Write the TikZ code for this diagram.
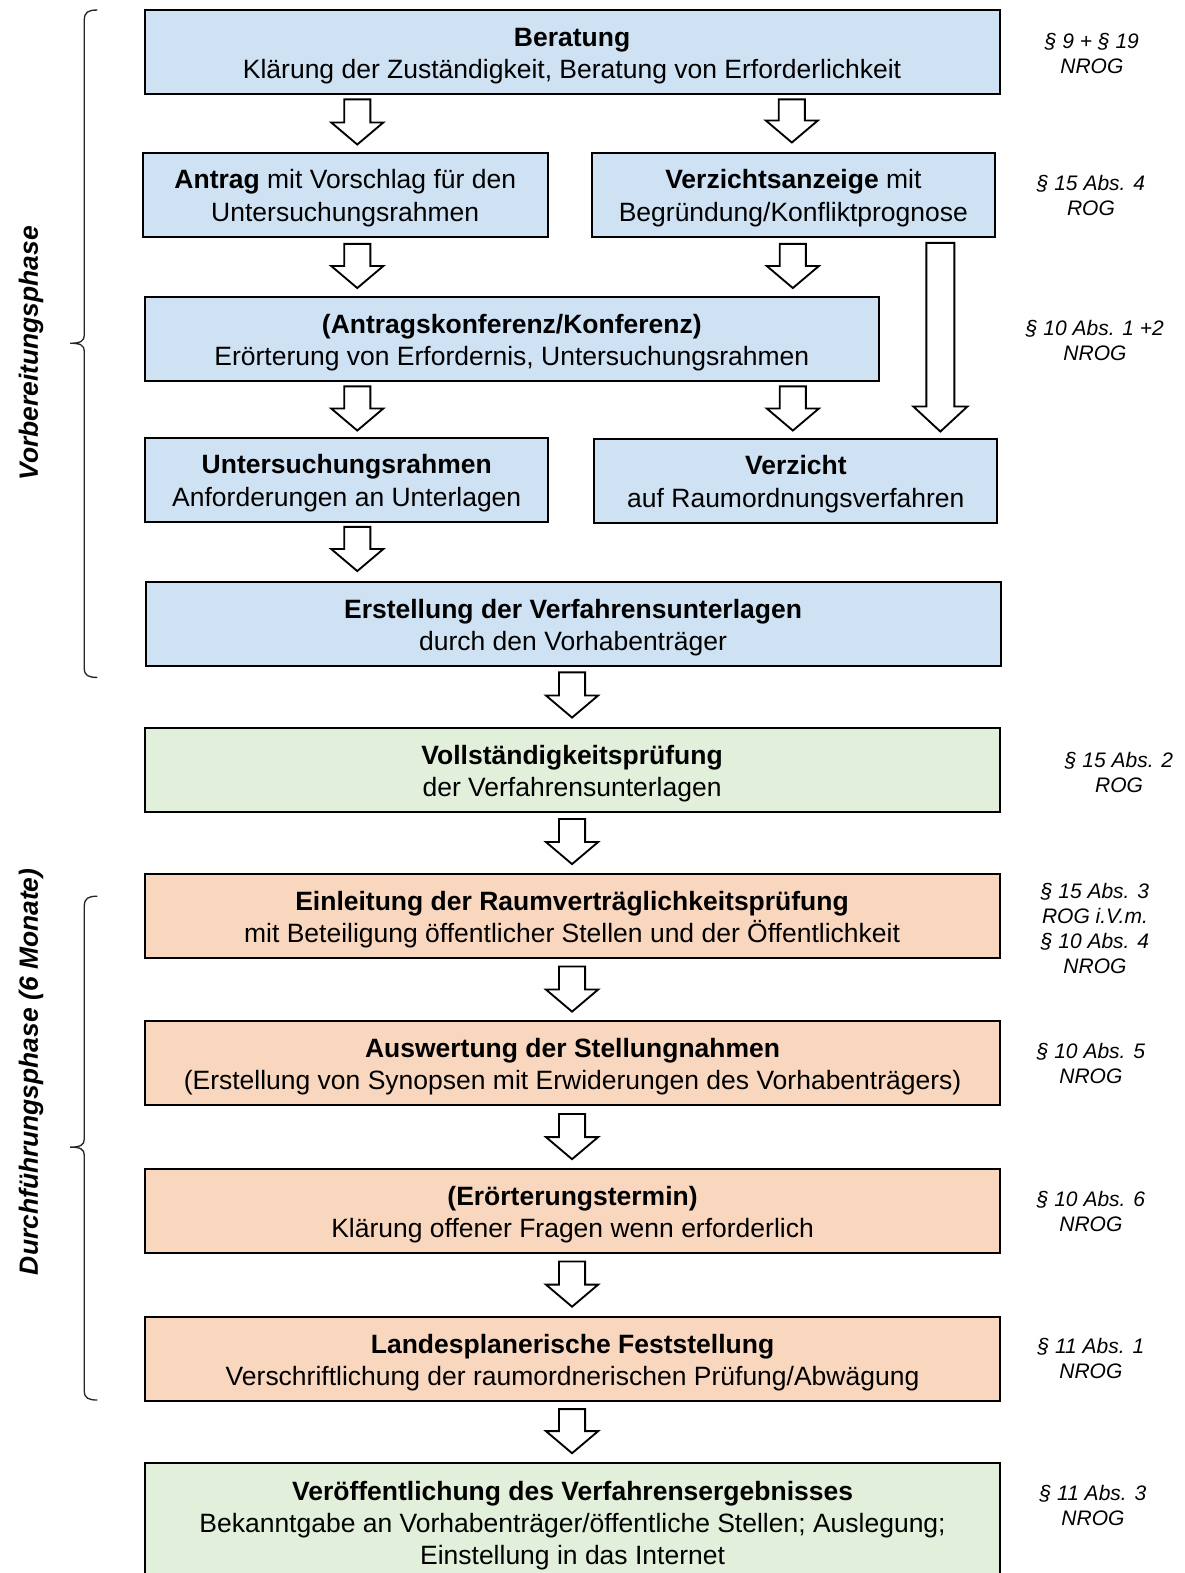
\documentclass[tikz,border=0pt]{standalone}
\usepackage{fontspec}
\setmainfont{Liberation Sans}
\definecolor{cblue}{HTML}{CFE2F3}
\definecolor{cgreen}{HTML}{E2EFDA}
\definecolor{corange}{HTML}{F8D7BE}
\newcommand{\blkarrow}[3]{%
  \draw[blkarr] (#1-13,#2) -- (#1+13,#2) -- (#1+13,#3-22) -- (#1+26,#3-22) -- (#1,#3) -- (#1-26,#3-22) -- (#1-13,#3-22) -- cycle;}
\newcommand{\lft}{\rule{0pt}{19.5pt}}
\begin{document}
\begin{tikzpicture}[x=0.7527pt,y=-0.7527pt,
  box/.style={draw=black, line width=1.5pt, inner sep=0pt, align=center,
    font=\fontsize{19.87}{24.1}\selectfont},
  wide/.style={box, minimum width=641.2pt, minimum height=63.2pt},
  half/.style={box, minimum width=302.1pt, minimum height=63.2pt},
  lawlbl/.style={align=center, inner sep=0pt, font=\fontsize{15.75}{18.85}\selectfont\itshape},
  phaselbl/.style={rotate=90, inner sep=0pt, font=\fontsize{19.8}{24}\selectfont\bfseries\itshape},
  blkarr/.style={draw=black, line width=1.4pt, fill=white, line join=miter},
  brace/.style={draw=black!85, line width=1pt}]
\useasboundingbox (0,0) rectangle (1180.75,1567.36);

% boxes
\node[wide, fill=cblue] (b1) at (570,52) {\lft\textbf{Beratung}\\Klärung der Zuständigkeit, Beratung von Erforderlichkeit};
\node[box, fill=cblue, minimum width=304.1pt, minimum height=63.2pt] (b2) at (344,194) {\lft\textbf{Antrag} mit Vorschlag für den\\Untersuchungsrahmen};
\node[half, fill=cblue] (b3) at (790.5,194) {\lft\textbf{Verzichtsanzeige} mit\\Begründung/Konfliktprognose};
\node[box, fill=cblue, minimum width=550.9pt, minimum height=63.2pt] (b4) at (510,338) {\lft\textbf{(Antragskonferenz/Konferenz)}\\Erörterung von Erfordernis, Untersuchungsrahmen};
\node[half, fill=cblue] (b5) at (345.5,478) {\lft\textbf{Untersuchungsrahmen}\\Anforderungen an Unterlagen};
\node[half, fill=cblue] (b6) at (793,479) {\lft\textbf{Verzicht}\\auf Raumordnungsverfahren};
\node[wide, fill=cblue] (b7) at (571,622) {\lft\textbf{Erstellung der Verfahrensunterlagen}\\durch den Vorhabenträger};
\node[wide, fill=cgreen] (b8) at (570,767.5) {\lft\textbf{Vollständigkeitsprüfung}\\der Verfahrensunterlagen};
\node[wide, fill=corange] (b9) at (570,913) {\lft\textbf{Einleitung der Raumverträglichkeitsprüfung}\\mit Beteiligung öffentlicher Stellen und der Öffentlichkeit};
\node[wide, fill=corange] (b10) at (570.5,1059.5) {\lft\textbf{Auswertung der Stellungnahmen}\\(Erstellung von Synopsen mit Erwiderungen des Vorhabenträgers)};
\node[wide, fill=corange] (b11) at (570.5,1207) {\lft\textbf{(Erörterungstermin)}\\Klärung offener Fragen wenn erforderlich};
\node[wide, fill=corange] (b12) at (570.5,1354) {\lft\textbf{Landesplanerische Feststellung}\\Verschriftlichung der raumordnerischen Prüfung/Abwägung};
\node[wide, fill=cgreen, minimum height=88.8pt] (b13) at (570.5,1517) {\lft\textbf{Veröffentlichung des Verfahrensergebnisses}\\Bekanntgabe an Vorhabenträger/öffentliche Stellen; Auslegung;\\Einstellung in das Internet};

% block arrows
\blkarrow{356}{99}{144}
\blkarrow{789}{99}{142}
\blkarrow{356}{243}{287}
\blkarrow{790}{243}{287}
\blkarrow{356}{385}{429}
\blkarrow{790}{385}{429}
\draw[blkarr] (923,242) -- (951,242) -- (951,405) -- (964,405) -- (937,430) -- (910,405) -- (923,405) -- cycle;
\blkarrow{356}{525}{569}
\blkarrow{570}{670}{715}
\blkarrow{570}{816}{861}
\blkarrow{570}{963}{1008}
\blkarrow{570}{1110}{1155}
\blkarrow{570}{1257}{1302}
\blkarrow{570}{1404}{1448}

% law labels
\node[lawlbl] (l1) at (1088,53) {§ 9 + § 19\\NROG};
\node[lawlbl] (l2) at (1087,195) {§ 15 Abs. 4\\ROG};
\node[lawlbl] (l3) at (1091,339) {§ 10 Abs. 1 +2\\NROG};
\node[lawlbl] (l4) at (1115,770) {§ 15 Abs. 2\\ROG};
\node[lawlbl] (l5) at (1091,925) {§ 15 Abs. 3\\ROG i.V.m.\\§ 10 Abs. 4\\NROG};
\node[lawlbl] (l6) at (1087,1060) {§ 10 Abs. 5\\NROG};
\node[lawlbl] (l7) at (1087,1207) {§ 10 Abs. 6\\NROG};
\node[lawlbl] (l8) at (1087,1354) {§ 11 Abs. 1\\NROG};
\node[lawlbl] (l9) at (1089,1500) {§ 11 Abs. 3\\NROG};

% braces
\draw[brace] (97,10) .. controls (88,10) and (84,12) .. (84,20) -- (84,334)
  .. controls (84,340) and (80,342) .. (70,342)
  .. controls (80,342) and (84,344) .. (84,350) -- (84,666)
  .. controls (84,673) and (88,675) .. (97,675);
\draw[brace] (97,893) .. controls (88,893) and (84,895) .. (84,903) -- (84,1135)
  .. controls (84,1141) and (80,1143) .. (70,1143)
  .. controls (80,1143) and (84,1145) .. (84,1151) -- (84,1386)
  .. controls (84,1393) and (88,1395) .. (97,1395);

% phase labels
\node[phaselbl] (p1) at (31,352) {Vorbereitungsphase};
\node[phaselbl] (p2) at (31,1068) {Durchführungsphase (6 Monate)};
\end{tikzpicture}
\end{document}
